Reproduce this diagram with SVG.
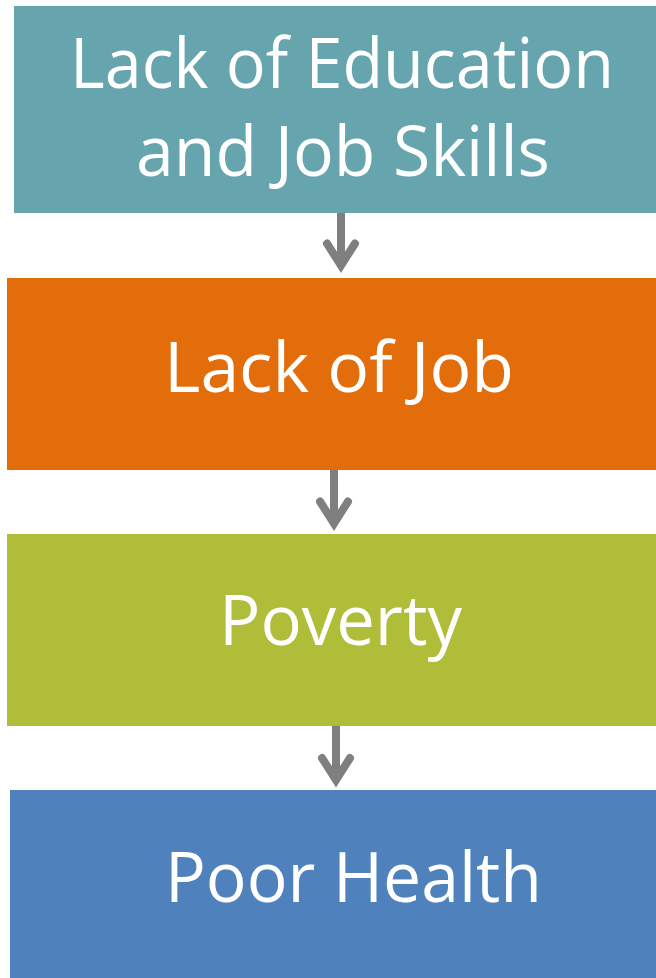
<svg xmlns="http://www.w3.org/2000/svg" xmlns:xlink="http://www.w3.org/1999/xlink" width="656" height="978" viewBox="0 0 656 978">
  <style>
    .lbl { font-family: "Open Sans", "Liberation Sans", sans-serif; font-size: 70px; fill: #ffffff; }
    .shaft { stroke: #7f7f7f; stroke-width: 8; fill: none; }
    .head { stroke: #7f7f7f; stroke-width: 8; fill: none; stroke-linecap: round; stroke-linejoin: miter; stroke-miterlimit: 10; }
  </style>
  <defs>
    <!-- chevron head, tip at the origin -->
    <polyline id="chev" class="head" points="-14,-22 0,0 14,-22"/>
  </defs>
  <rect width="656" height="978" fill="#ffffff"/>

  <g id="node-education">
    <rect x="14" y="6" width="642" height="207" fill="#66a4ae"/>
    <text class="lbl" x="70" y="88" textLength="544" lengthAdjust="spacingAndGlyphs">Lack of Education</text>
    <text class="lbl" x="136" y="176" textLength="414" lengthAdjust="spacingAndGlyphs">and Job Skills</text>
  </g>

  <g id="node-job">
    <rect x="7" y="278" width="649" height="192" fill="#e36c0b"/>
    <text class="lbl" x="164" y="392" textLength="350" lengthAdjust="spacingAndGlyphs">Lack of Job</text>
  </g>

  <g id="node-poverty">
    <rect x="7" y="534" width="649" height="192" fill="#b0bd38"/>
    <text class="lbl" x="219" y="645" textLength="243" lengthAdjust="spacingAndGlyphs">Poverty</text>
  </g>

  <g id="node-health">
    <rect x="10" y="790" width="646" height="188" fill="#4f81bd"/>
    <text class="lbl" x="165" y="902" textLength="377" lengthAdjust="spacingAndGlyphs">Poor Health</text>
  </g>

  <g id="connectors">
    <line class="shaft" x1="341" y1="213" x2="341" y2="262"/>
    <use xlink:href="#chev" href="#chev" transform="translate(341,265.5)"/>
    <line class="shaft" x1="334" y1="470" x2="334" y2="520"/>
    <use xlink:href="#chev" href="#chev" transform="translate(334,523.5)"/>
    <line class="shaft" x1="336" y1="726" x2="336" y2="776"/>
    <use xlink:href="#chev" href="#chev" transform="translate(336,780)"/>
  </g>
</svg>
